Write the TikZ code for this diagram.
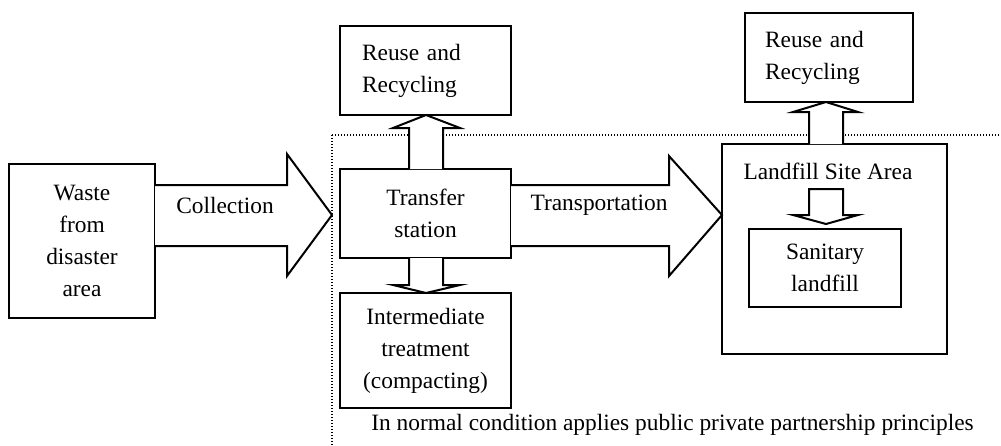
\documentclass[tikz,border=0pt]{standalone}
\usepackage{fontspec}
\setmainfont{Liberation Serif}
\begin{document}
\begin{tikzpicture}[x=1pt,y=-1pt,
  txt/.style={font=\fontsize{23.4}{32}\selectfont},
  box/.style={txt,draw,line width=2pt,inner sep=0pt,align=center},
  blk/.style={draw,fill=white,line width=2pt,line join=miter},
  sep/.style={line width=1.3pt,dash pattern=on 1.4pt off 1.6pt}]
\useasboundingbox (0,0) rectangle (1001,445);
% dotted boundary
\coordinate (c) at (332,135);
\draw[sep] (c) -- (332,445);
\draw[sep] (c) -- (1001,135);
% boxes
\node[box,minimum width=146pt,minimum height=154pt] (waste) at (82,241) {Waste\\from\\disaster\\area};
\node[box,minimum width=171pt,minimum height=89pt,text width=127pt,inner xsep=22pt,align=left] (reuse1) at (425.5,70.5) {Reuse and\\Recycling};
\node[box,minimum width=171pt,minimum height=89pt] (transfer) at (425.5,213.5) {Transfer\\station};
\node[box,minimum width=171pt,minimum height=115pt] (inter) at (425.5,350.5) {Intermediate\\treatment\\(compacting)};
\node[box,minimum width=225pt,minimum height=210pt] (landfill) at (834.5,249) {};
\node[txt] (lsa) at (828,171) {Landfill Site Area};
\node[box,minimum width=152pt,minimum height=78pt] (sanit) at (825,268) {Sanitary\\landfill};
\node[box,minimum width=168pt,minimum height=89pt,text width=128pt,inner xsep=20pt,align=left] (reuse2) at (829,57.5) {Reuse and\\Recycling};
% block arrows
\draw[blk] (155,185) -- (287,185) -- (287,154) -- (332,215) -- (287,276) -- (287,246) -- (155,246);
\node[txt] (lcol) at (225,205) {Collection};
\draw[blk] (511,185) -- (669,185) -- (669,156) -- (722,215) -- (669,276) -- (669,246) -- (511,246);
\node[txt] (ltra) at (599,205) {Transportation};
\draw[blk] (409,169) -- (409,128) -- (393,128) -- (426,115) -- (460,128) -- (443,128) -- (443,169);
\draw[blk] (409,258) -- (409,285) -- (393,285) -- (426,293) -- (460,285) -- (443,285) -- (443,258);
\draw[blk] (809,144) -- (809,112) -- (793,112) -- (826,102) -- (858,112) -- (843,112) -- (843,144);
\draw[blk] (809,189) -- (843,189) -- (843,215) -- (858,215) -- (826,224) -- (793,215) -- (809,215) -- cycle;
% caption
\node[txt] (cap) at (672.5,425) {In normal condition applies public private partnership principles};
\end{tikzpicture}
\end{document}
